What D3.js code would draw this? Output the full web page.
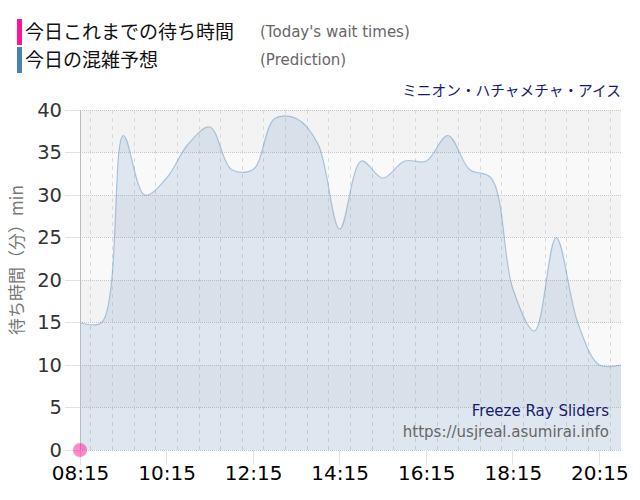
<!DOCTYPE html>
<html><head><meta charset="utf-8">
<script src="https://cdn.jsdelivr.net/npm/d3@7"></script>
<style>body{margin:0;background:#fff}svg{display:block}</style>
</head><body><svg id="c" width="640" height="500"></svg>
<script>
const times = ["08:15","08:45","09:15","09:45","10:15","10:45","11:15","11:45","12:15","12:45","13:15","13:45","14:15","14:45","15:15","15:45","16:15","16:45","17:15","17:45","18:15","18:45","19:15","19:45","20:15","20:45"];
const prediction = [15,15,37,30,32,36,38,33,33,39,39,36,26,34,32,34,34,37,33,32,19,14,25,15,10,10];
const actualTimes = ["08:15"];
const actualValues = [0];
const xTickLabels = ["08:15","10:15","12:15","14:15","16:15","18:15","20:15"];
const yTicks = [0,5,10,15,20,25,30,35,40];
const title = "ミニオン・ハチャメチャ・アイス";
const legendItems = [{jp:"今日これまでの待ち時間", en:"(Today's wait times)", color:"#ff1493"},{jp:"今日の混雑予想", en:"(Prediction)", color:"#4682b4"}];

const parse = d3.timeParse("%H:%M");
const svg = d3.select("#c");
const L=80, R=621, T=110, B=450;
const x = d3.scaleTime().domain([parse("08:15"), parse("20:45")]).range([L,R]);
const y = d3.scaleLinear().domain([0,40]).range([B,T]);
const jp = "'Noto Sans CJK JP', sans-serif";
const dv = "'DejaVu Sans', sans-serif";

// bands
for (let i=0;i<8;i++){
  svg.append("rect").attr("x",L).attr("width",R-L)
    .attr("y",y((i+1)*5)).attr("height",y(i*5)-y((i+1)*5))
    .attr("fill", (7-i)%2===0 ? "#f3f3f3" : "#f9f9f9");
}
// vertical grid every 30 min
const halfHours = d3.timeMinute.every(30).range(parse("08:15"), d3.timeMinute.offset(parse("20:45"),1));
const major = new Set(xTickLabels);
const fmt = d3.timeFormat("%H:%M");
halfHours.forEach(t=>{
  const isMajor = major.has(fmt(t)) || fmt(t)==="20:45";
  if (fmt(t)==="08:15") return;
  svg.append("line").attr("x1",x(t)).attr("x2",x(t)).attr("y1",T).attr("y2",B)
    .attr("stroke", isMajor? "#c8c8c8":"#dadada").attr("stroke-width",1)
    .attr("stroke-dasharray", isMajor? "1,1":"4,4").attr("shape-rendering","crispEdges");
});
// horizontal grid
yTicks.forEach(v=>{
  svg.append("line").attr("x1",L).attr("x2",R).attr("y1",y(v)).attr("y2",y(v))
    .attr("stroke","#c8c8c8").attr("stroke-dasharray","1,1").attr("shape-rendering","crispEdges");
  svg.append("line").attr("x1",65).attr("x2",L).attr("y1",y(v)).attr("y2",y(v))
    .attr("stroke","#e2e2e2").attr("shape-rendering","crispEdges");
});
// x tick extensions
xTickLabels.forEach(s=>{
  svg.append("line").attr("x1",x(parse(s))).attr("x2",x(parse(s))).attr("y1",B).attr("y2",465)
    .attr("stroke","#e2e2e2").attr("shape-rendering","crispEdges");
});

// area
const data = times.map((t,i)=>({t:parse(t), v:prediction[i]}));
const curve = d3.curveCatmullRom.alpha(0.5);
const area = d3.area().x(d=>x(d.t)).y0(y(0)).y1(d=>y(d.v)).curve(curve);
const line = d3.line().x(d=>x(d.t)).y(d=>y(d.v)).curve(curve);
svg.append("path").datum(data).attr("d",area).attr("fill","rgba(70,130,180,0.15)");
svg.append("path").datum(data).attr("d",line).attr("fill","none").attr("stroke","rgba(70,130,180,0.4)").attr("stroke-width",1.2);

// left axis line
svg.append("line").attr("x1",L+0.5).attr("x2",L+0.5).attr("y1",T).attr("y2",B).attr("stroke","#b4bcc4");

// axes labels via d3 axes
const yAxis = svg.append("g").attr("transform",`translate(${L},0)`)
  .call(d3.axisLeft(y).tickValues(yTicks).tickSize(0).tickPadding(18));
yAxis.select(".domain").remove();
yAxis.selectAll("text").attr("font-family",dv).attr("font-size",19.5).attr("fill","#333");
const xAxis = svg.append("g").attr("transform",`translate(0,${B})`)
  .call(d3.axisBottom(x).tickValues(xTickLabels.map(parse)).tickFormat(fmt).tickSize(0).tickPadding(16));
xAxis.select(".domain").remove();
xAxis.selectAll("text").attr("font-family",dv).attr("font-size",20).attr("fill","#000");

// actual dots
actualTimes.forEach((t,i)=>{
  svg.append("circle").attr("cx",x(parse(t))).attr("cy",y(actualValues[i])).attr("r",7)
    .attr("fill","#ff1493").attr("fill-opacity",0.5);
});

// y label
svg.append("text").attr("transform","translate(23,260) rotate(-90)").attr("text-anchor","middle")
  .attr("font-family",jp).attr("font-size",17).attr("fill","#777").text("待ち時間（分）min");

// legend
legendItems.forEach((d,i)=>{
  const cy = 32 + i*28;
  svg.append("rect").attr("x",17).attr("y",cy-13).attr("width",5).attr("height",26).attr("fill",d.color);
  svg.append("text").attr("x",25).attr("y",cy+7).attr("font-family",jp).attr("font-size",19).attr("fill","#111").text(d.jp);
  svg.append("text").attr("x",260).attr("y",cy+5).attr("font-family",dv).attr("font-size",15).attr("fill","#666").text(d.en);
});
// title
svg.append("text").attr("x",R).attr("y",96).attr("text-anchor","end").attr("font-family",jp).attr("font-size",14.7).attr("fill","#191970").text(title);
// watermark
svg.append("text").attr("x",609).attr("y",416).attr("text-anchor","end").attr("font-family",dv).attr("font-size",15).attr("fill","#191970").text("Freeze Ray Sliders");
svg.append("text").attr("x",609).attr("y",437).attr("text-anchor","end").attr("font-family",dv).attr("font-size",15).attr("fill","#666").text("https://usjreal.asumirai.info");
</script></body></html>
